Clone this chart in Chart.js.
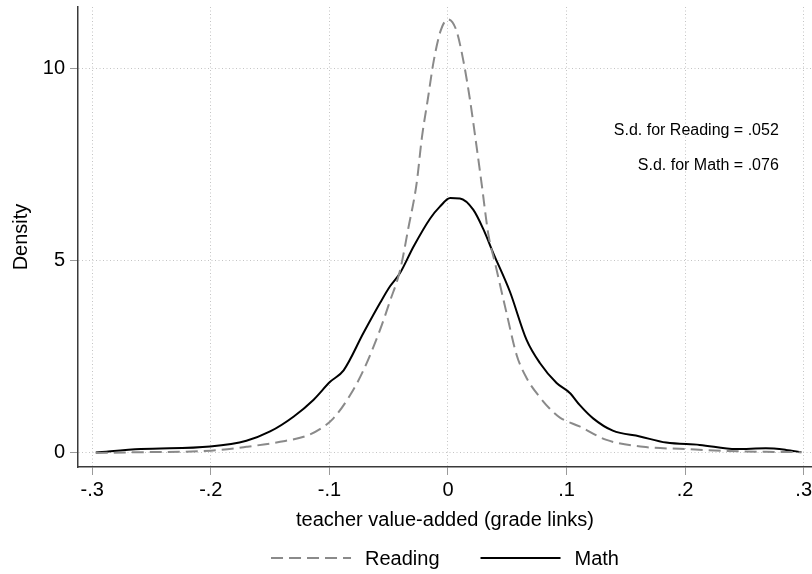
<!DOCTYPE html>
<html>
<head>
<meta charset="utf-8">
<script src="https://cdn.jsdelivr.net/npm/chart.js@4.4.0/dist/chart.umd.min.js"></script>
<style>
  html, body { margin: 0; padding: 0; background: #fff; }
  #wrap { width: 812px; height: 574px; }
</style>
</head>
<body>
<div id="wrap"><canvas id="densityChart"></canvas></div>
<script>
// density curves of teacher value-added, sampled along each curve
var readingX = [-0.297, -0.26, -0.2, -0.17, -0.1415, -0.119, -0.108, -0.0966, -0.0826, -0.0713,
  -0.0573, -0.0489, -0.0404, -0.0334, -0.0264, -0.022, -0.017, -0.012, -0.006, 0.0,
  0.007, 0.013, 0.0185, 0.024, 0.0284, 0.034, 0.040, 0.0494, 0.0579, 0.0663,
  0.0775, 0.0859, 0.0944, 0.111, 0.1337, 0.1645, 0.201, 0.235, 0.268, 0.298];
var readingY = [0.00, 0.02, 0.06, 0.16, 0.29, 0.45, 0.62, 0.90, 1.50, 2.15,
  3.20, 3.95, 4.75, 5.85, 7.02, 8.20, 9.20, 10.20, 11.00, 11.28,
  11.00, 10.20, 9.20, 8.00, 7.00, 5.70, 4.90, 3.64, 2.55, 1.95,
  1.45, 1.15, 0.92, 0.69, 0.34, 0.16, 0.10, 0.05, 0.03, 0.02];

var mathX = [-0.297, -0.259, -0.2005, -0.17, -0.15, -0.13, -0.1135, -0.0994, -0.088, -0.0713,
  -0.0573, -0.049, -0.0404, -0.029, -0.015, -0.007, 0.002, 0.0101, 0.0213, 0.030,
  0.0382, 0.0522, 0.0663, 0.0775, 0.0916, 0.1028, 0.111, 0.1224, 0.139, 0.1618,
  0.184, 0.2123, 0.243, 0.268, 0.285, 0.298];
var mathY = [0.01, 0.10, 0.17, 0.32, 0.56, 0.95, 1.38, 1.85, 2.15, 3.12,
  3.90, 4.33, 4.68, 5.37, 6.10, 6.40, 6.63, 6.62, 6.33, 5.81,
  5.20, 4.20, 2.94, 2.34, 1.82, 1.56, 1.25, 0.90, 0.58, 0.43,
  0.27, 0.21, 0.10, 0.12, 0.08, 0.02];

var xTicks = [-0.3, -0.2, -0.1, 0, 0.1, 0.2, 0.3];
var xTickLabels = ['-.3', '-.2', '-.1', '0', '.1', '.2', '.3'];
var yTicks = [0, 5, 10];
var yTickLabels = ['0', '5', '10'];

var sdNotes = ['S.d. for Reading = .052', 'S.d. for Math = .076'];

var FONT = '"Liberation Sans", Arial, Helvetica, sans-serif';
Chart.defaults.font.family = FONT;
Chart.defaults.color = '#000';

function toPoints(xs, ys) {
  return xs.map(function (x, i) { return { x: x, y: ys[i] }; });
}

// keep the plot box fixed: no extra room for edge labels
function fixScale(scale, size) {
  if (scale.isHorizontal()) scale.height = size; else scale.width = size;
  scale.paddingTop = 0;
  scale.paddingBottom = 0;
  scale.paddingLeft = 0;
  scale.paddingRight = 0;
}

// line-sample legend under the axis title
var bottomLegend = {
  id: 'bottomLegend',
  afterDraw: function (chart) {
    var ctx = chart.ctx;
    var area = chart.chartArea;
    var lineLen = 80, gap = 14, spacing = 41;
    var sets = chart.data.datasets;
    ctx.save();
    ctx.font = '20px ' + FONT;
    var total = 0;
    sets.forEach(function (ds, i) {
      total += lineLen + gap + ctx.measureText(ds.label).width;
      if (i < sets.length - 1) total += spacing;
    });
    var x = (area.left + area.right) / 2 - total / 2;
    var y = chart.height - 16;
    sets.forEach(function (ds) {
      ctx.strokeStyle = ds.borderColor;
      ctx.lineWidth = ds.borderWidth;
      ctx.setLineDash(ds.borderDash || []);
      ctx.beginPath();
      ctx.moveTo(x, y);
      ctx.lineTo(x + lineLen, y);
      ctx.stroke();
      ctx.setLineDash([]);
      ctx.fillStyle = '#000';
      ctx.textAlign = 'left';
      ctx.textBaseline = 'middle';
      ctx.fillText(ds.label, x + lineLen + gap, y + 1);
      x += lineLen + gap + ctx.measureText(ds.label).width + spacing;
    });
    ctx.restore();
  }
};

// standard deviation notes, right aligned
var sdText = {
  id: 'sdText',
  afterDatasetsDraw: function (chart) {
    var ctx = chart.ctx;
    var xs = chart.scales.x, ys = chart.scales.y;
    var at = [8.28, 7.37];
    ctx.save();
    ctx.font = '16px ' + FONT;
    ctx.fillStyle = '#000';
    ctx.textAlign = 'right';
    ctx.textBaseline = 'alphabetic';
    sdNotes.forEach(function (t, i) {
      ctx.fillText(t, xs.getPixelForValue(0.279), ys.getPixelForValue(at[i]));
    });
    ctx.restore();
  }
};

var ctx = document.getElementById('densityChart').getContext('2d');
var densityChart = new Chart(ctx, {
  type: 'line',
  data: {
    datasets: [{
      label: 'Reading',
      data: toPoints(readingX, readingY),
      borderColor: '#8a8a8a',
      borderWidth: 2,
      borderDash: [12, 6],
      pointRadius: 0,
      fill: false,
      cubicInterpolationMode: 'monotone'
    }, {
      label: 'Math',
      data: toPoints(mathX, mathY),
      borderColor: '#000',
      borderWidth: 2,
      pointRadius: 0,
      fill: false,
      cubicInterpolationMode: 'monotone'
    }]
  },
  options: {
    responsive: true,
    maintainAspectRatio: false,
    animation: false,
    layout: { padding: { top: 7, left: 0, right: 0, bottom: 40 } },
    plugins: {
      legend: { display: false },
      tooltip: { enabled: false }
    },
    scales: {
      x: {
        type: 'linear',
        min: -0.312,
        max: 0.307,
        afterBuildTicks: function (scale) {
          scale.ticks = xTicks.map(function (v) { return { value: v }; });
        },
        afterFit: function (scale) { fixScale(scale, 67); },
        ticks: {
          autoSkip: false,
          maxRotation: 0,
          padding: 3,
          font: { size: 20 },
          callback: function (v, i) { return xTickLabels[i]; }
        },
        grid: {
          color: '#c4c4c4',
          lineWidth: 1,
          tickLength: 8,
          tickColor: '#9a9a9a'
        },
        border: { display: true, color: '#3a3a3a', width: 1.5, dash: [1, 2.5] },
        title: {
          display: true,
          text: 'teacher value-added (grade links)',
          font: { size: 20 },
          padding: { top: 0, bottom: 2 }
        }
      },
      y: {
        min: -0.365,
        max: 11.6,
        afterBuildTicks: function (scale) {
          scale.ticks = yTicks.map(function (v) { return { value: v }; });
        },
        afterFit: function (scale) { fixScale(scale, 78); },
        ticks: {
          padding: 5,
          font: { size: 20 },
          callback: function (v, i) { return yTickLabels[i]; }
        },
        grid: {
          color: '#c4c4c4',
          lineWidth: 1,
          tickLength: 8,
          tickColor: '#9a9a9a'
        },
        border: { display: true, color: '#3a3a3a', width: 1.5, dash: [1, 2.5] },
        title: {
          display: true,
          text: 'Density',
          font: { size: 20 },
          padding: { top: 9, bottom: 0 }
        }
      }
    }
  },
  plugins: [sdText, bottomLegend]
});
</script>
</body>
</html>
